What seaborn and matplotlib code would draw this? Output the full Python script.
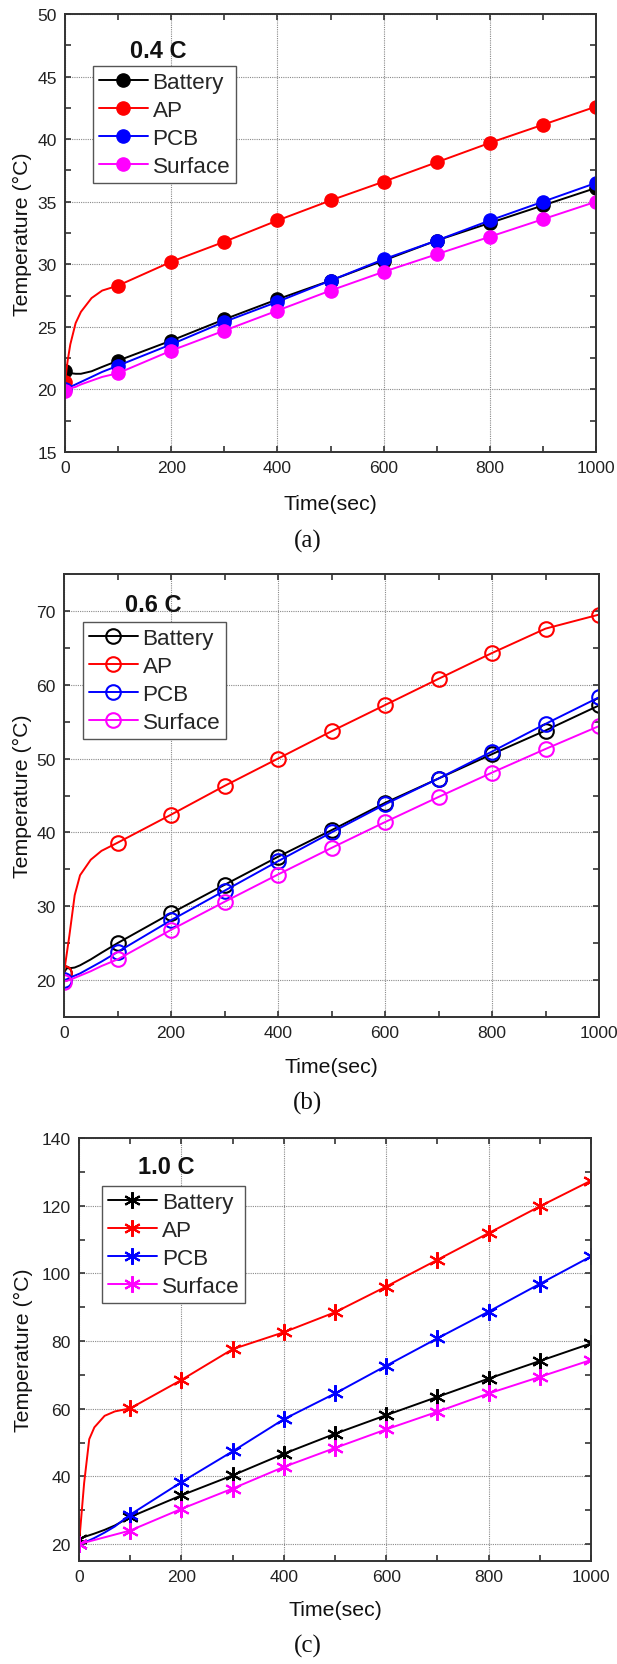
import numpy as np
import pandas as pd
import seaborn as sns
import matplotlib
matplotlib.use("Agg")
import matplotlib.pyplot as plt
from matplotlib.ticker import MultipleLocator

# ---------------- data ----------------
time_s = [0, 5, 10, 20, 30, 50, 70, 100, 200, 300, 400, 500, 600, 700, 800, 900, 1000]
series_names = ["Battery", "AP", "PCB", "Surface"]
series_colors = ["#000000", "#ff0000", "#0000ff", "#ff00ff"]

# (a) 0.4 C
a_battery = [21.5, 21.35, 21.3, 21.25, 21.25, 21.45, 21.8, 22.3, 23.9, 25.6, 27.2, 28.7, 30.3, 31.9, 33.3, 34.7, 36.1]
a_ap      = [20.6, 22.3, 23.6, 25.3, 26.2, 27.3, 27.9, 28.3, 30.2, 31.8, 33.5, 35.1, 36.6, 38.15, 39.7, 41.15, 42.6]
a_pcb     = [20.0, 20.1, 20.2, 20.4, 20.6, 21.0, 21.4, 21.9, 23.6, 25.4, 27.0, 28.7, 30.4, 31.9, 33.5, 35.0, 36.5]
a_surface = [19.9, 20.0, 20.1, 20.2, 20.4, 20.7, 21.0, 21.3, 23.1, 24.7, 26.3, 27.9, 29.4, 30.8, 32.2, 33.6, 35.0]

# (b) 0.6 C
b_battery = [21.0, 21.6, 21.6, 21.7, 22.0, 22.8, 23.7, 25.0, 29.05, 32.9, 36.7, 40.3, 44.0, 47.3, 50.6, 53.8, 57.2]
b_ap      = [21.0, 23.5, 26.0, 31.5, 34.2, 36.3, 37.5, 38.6, 42.4, 46.3, 50.0, 53.7, 57.25, 60.8, 64.3, 67.6, 69.5]
b_pcb     = [20.0, 20.1, 20.3, 20.6, 20.9, 21.7, 22.5, 23.8, 28.1, 32.1, 36.1, 40.0, 43.8, 47.3, 50.95, 54.7, 58.3]
b_surface = [19.8, 19.9, 20.0, 20.3, 20.6, 21.2, 21.9, 22.8, 26.8, 30.6, 34.3, 37.9, 41.4, 44.8, 48.1, 51.3, 54.4]

# (c) 1.0 C
c_battery = [21.5, 21.8, 22.1, 22.6, 23.1, 24.2, 25.5, 28.0, 34.4, 40.3, 46.7, 52.6, 58.1, 63.5, 68.9, 74.1, 79.3]
c_ap      = [20.0, 29.0, 38.0, 51.0, 54.5, 57.9, 59.2, 60.1, 68.5, 77.6, 82.6, 88.5, 96.1, 104.0, 111.9, 119.8, 127.4]
c_pcb     = [20.0, 20.2, 20.5, 21.1, 21.8, 23.4, 25.2, 28.7, 38.3, 47.4, 56.9, 64.5, 72.7, 80.8, 88.7, 96.9, 105.0]
c_surface = [20.0, 20.2, 20.4, 20.8, 21.2, 22.0, 22.8, 24.0, 30.4, 36.4, 42.8, 48.4, 53.9, 59.1, 64.5, 69.4, 74.4]

panel_titles = ["0.4 C", "0.6 C", "1.0 C"]
panel_tags = ["(a)", "(b)", "(c)"]
x_label = "Time(sec)"
y_label = "Temperature (\u00b0C)"
y_limits = [(15, 50), (15, 75), (15, 140)]
y_major = [5, 10, 20]

# ---------------- style ----------------
sns.set_theme(style="white")
plt.rcParams["font.family"] = ["Liberation Sans", "DejaVu Sans"]
plt.rcParams["axes.edgecolor"] = "#333333"
plt.rcParams["axes.linewidth"] = 1.4

W, H = 617, 1665
fig = plt.figure(figsize=(W / 100, H / 100), dpi=100)

# axes boxes in pixels: left, right, top, bottom
boxes = [(65, 596, 15, 453), (64, 599, 575, 1018), (79, 591, 1139, 1562)]
legend_corners = [(93, 67), (83, 623), (102, 1187)]
title_pos = [(158, 52), (153, 605), (166, 1168)]
tag_y = [541, 1103, 1646]
ylab_x = [32, 32, 33]
xlab_top = [495, 1058, 1601]

panels = [
    [a_battery, a_ap, a_pcb, a_surface],
    [b_battery, b_ap, b_pcb, b_surface],
    [c_battery, c_ap, c_pcb, c_surface],
]
marker_styles = [
    dict(marker="o", markersize=9.5, markeredgewidth=1.0, filled=True),
    dict(marker="o", markersize=10.5, markeredgewidth=1.5, filled=False),
    dict(marker=(6, 2, 0), markersize=12, markeredgewidth=1.5, filled=True),
]

mark_idx = [i for i, t in enumerate(time_s) if t % 100 == 0]

for p in range(3):
    l, r, t, b = boxes[p]
    ax = fig.add_axes([l / W, 1 - b / H, (r - l) / W, (b - t) / H])
    ms = marker_styles[p]
    for name, col, vals in zip(series_names, series_colors, panels[p]):
        df = pd.DataFrame({"t": time_s, "v": vals})
        kw = dict(marker=ms["marker"], markersize=ms["markersize"],
                  markeredgewidth=ms["markeredgewidth"], markeredgecolor=col,
                  markevery=mark_idx, linewidth=1.4)
        kw["markerfacecolor"] = col if ms["filled"] else "none"
        sns.lineplot(data=df, x="t", y="v", color=col, label=name, ax=ax,
                     sort=False, estimator=None, **kw)
    ax.set_xlim(0, 1000)
    ax.set_ylim(*y_limits[p])
    ax.xaxis.set_major_locator(MultipleLocator(200))
    ax.xaxis.set_minor_locator(MultipleLocator(100))
    ax.yaxis.set_major_locator(MultipleLocator(y_major[p]))
    ax.yaxis.set_minor_locator(MultipleLocator(y_major[p] / 2))
    ax.tick_params(which="both", direction="in", top=True, right=True,
                   left=True, bottom=True, length=4.5, width=1.2,
                   color="#333333")
    ax.tick_params(which="major", labelsize=12.6, pad=6,
                   labelcolor="#222222")
    ax.grid(True, which="major", color="#8a8a8a", linestyle=(0, (1, 1)),
            linewidth=0.8)
    ax.set_axisbelow(True)
    for s in ax.spines.values():
        s.set_visible(True)
    ax.set_xlabel(x_label, fontsize=15.3, color="#111111")
    ax.set_ylabel(y_label, fontsize=15.3, color="#111111")
    ax.xaxis.set_label_coords(0.5, -(xlab_top[p] - b) / (b - t))
    ax.yaxis.set_label_coords((ylab_x[p] - l) / (r - l), 0.5)
    lx, ly = legend_corners[p]
    leg = ax.legend(loc="upper left", bbox_to_anchor=(lx / W, 1 - ly / H),
                    bbox_transform=fig.transFigure, fontsize=16.2,
                    frameon=True, fancybox=False, edgecolor="#555555",
                    framealpha=1, borderpad=0.25, borderaxespad=0,
                    handlelength=2.2, handletextpad=0.2, labelspacing=0.32)
    leg.get_frame().set_linewidth(1.0)
    tx, ty = title_pos[p]
    fig.text(tx / W, 1 - ty / H, panel_titles[p], fontsize=17,
             fontweight="bold", ha="center", va="center", color="#111111")
    fig.text(308 / W, 1 - tag_y[p] / H, panel_tags[p], fontsize=18,
             family=["Liberation Serif", "DejaVu Serif"], ha="center",
             va="center", color="#111111")

fig.savefig("out.png", dpi=100)
